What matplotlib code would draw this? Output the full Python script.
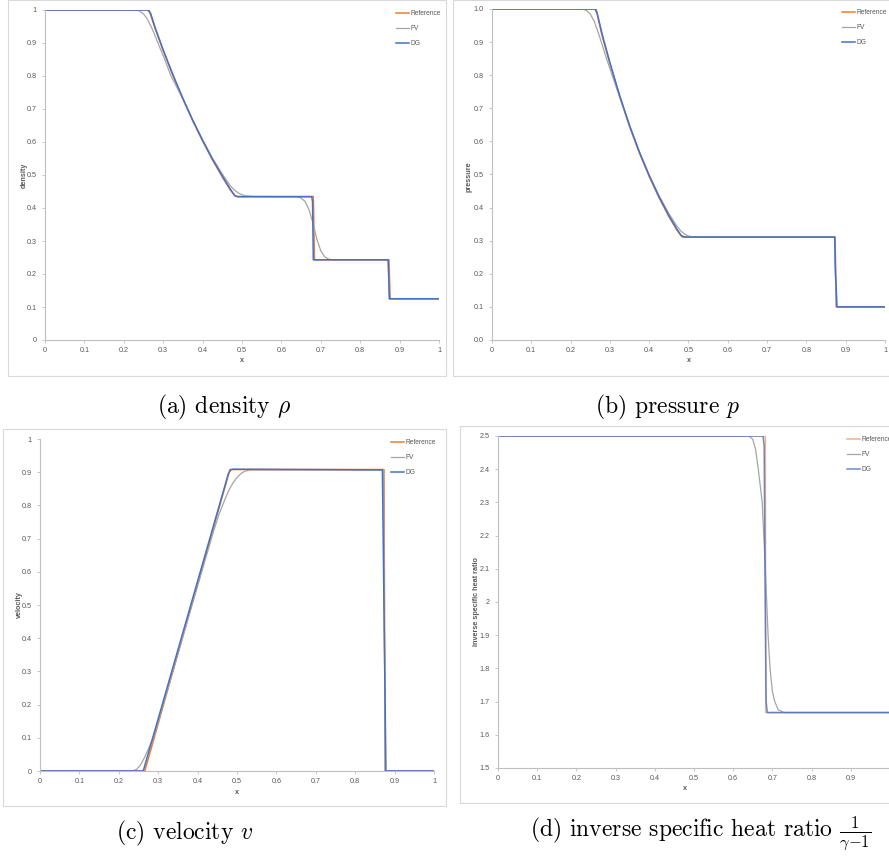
import matplotlib
matplotlib.use("Agg")
import matplotlib.pyplot as plt
from matplotlib.patches import Rectangle
from matplotlib.ticker import FuncFormatter, MultipleLocator, FixedLocator

plt.rcParams['font.family'] = ['Liberation Sans', 'DejaVu Sans']
plt.rcParams['mathtext.fontset'] = 'cm'

W, H = 889, 861

# ---- density ----
rho_ref_x = [0, 0.264, 0.28, 0.30, 0.325, 0.35, 0.375, 0.40, 0.425, 0.45, 0.47, 0.484, 0.681, 0.684, 0.873, 0.876, 1.0]
rho_ref_y = [1, 1, 0.942, 0.877, 0.801, 0.730, 0.664, 0.603, 0.546, 0.494, 0.455, 0.435, 0.435, 0.243, 0.243, 0.125, 0.125]
rho_fv_x = [0, 0.23, 0.24, 0.25, 0.26, 0.27, 0.28, 0.29, 0.30, 0.32, 0.35, 0.375, 0.40, 0.425, 0.45, 0.47, 0.48, 0.49,
            0.50, 0.51, 0.53, 0.64, 0.65, 0.66, 0.67, 0.68, 0.69, 0.70, 0.71, 0.72, 0.73, 0.871, 0.874, 1.0]
rho_fv_y = [1, 1, 0.997, 0.988, 0.972, 0.948, 0.92, 0.89, 0.862, 0.80, 0.73, 0.666, 0.607, 0.551, 0.503, 0.468, 0.455, 0.446,
            0.440, 0.437, 0.435, 0.434, 0.43, 0.42, 0.395, 0.355, 0.305, 0.27, 0.252, 0.245, 0.243, 0.243, 0.125, 0.125]
rho_dg_x = [0, 0.261, 0.268, 0.28, 0.30, 0.325, 0.35, 0.375, 0.40, 0.425, 0.45, 0.47, 0.481, 0.49, 0.677, 0.679, 0.681, 0.871, 0.874, 1.0]
rho_dg_y = [1, 1, 0.99, 0.945, 0.879, 0.803, 0.732, 0.666, 0.605, 0.548, 0.497, 0.458, 0.438, 0.434, 0.434, 0.42, 0.243, 0.243, 0.125, 0.125]

# ---- pressure ----
p_ref_x = [0, 0.265, 0.28, 0.30, 0.325, 0.35, 0.375, 0.40, 0.425, 0.45, 0.47, 0.484, 0.873, 0.876, 1.0]
p_ref_y = [1, 1, 0.92, 0.835, 0.735, 0.645, 0.565, 0.494, 0.43, 0.373, 0.333, 0.311, 0.311, 0.1, 0.1]
p_fv_x = [0, 0.23, 0.24, 0.25, 0.26, 0.27, 0.28, 0.29, 0.30, 0.32, 0.35, 0.375, 0.40, 0.425, 0.45, 0.47, 0.48, 0.49,
          0.50, 0.51, 0.53, 0.872, 0.876, 1.0]
p_fv_y = [1, 1, 0.996, 0.985, 0.963, 0.93, 0.893, 0.855, 0.82, 0.75, 0.648, 0.568, 0.498, 0.436, 0.382, 0.345, 0.33, 0.32,
          0.314, 0.312, 0.311, 0.311, 0.1, 0.1]
p_dg_x = [0, 0.262, 0.268, 0.28, 0.30, 0.325, 0.35, 0.375, 0.40, 0.425, 0.45, 0.47, 0.481, 0.49, 0.872, 0.874, 0.878, 1.0]
p_dg_y = [1, 1, 0.985, 0.925, 0.838, 0.738, 0.648, 0.568, 0.497, 0.433, 0.376, 0.336, 0.316, 0.311, 0.311, 0.2, 0.1, 0.1]

# ---- velocity ----
v_ref_x = [0, 0.266, 0.482, 0.873, 0.876, 1.0]
v_ref_y = [0, 0, 0.908, 0.908, 0, 0]
v_fv_x = [0, 0.235, 0.245, 0.255, 0.265, 0.275, 0.29, 0.44, 0.455, 0.47, 0.48, 0.49, 0.50, 0.51, 0.52, 0.535, 0.872, 0.876, 1.0]
v_fv_y = [0, 0, 0.005, 0.018, 0.04, 0.066, 0.108, 0.72, 0.775, 0.82, 0.847, 0.868, 0.884, 0.896, 0.903, 0.907, 0.907, 0, 0]
v_dg_x = [0, 0.262, 0.478, 0.484, 0.49, 0.869, 0.872, 0.878, 1.0]
v_dg_y = [0, 0, 0.895, 0.907, 0.909, 0.907, 0.6, 0, 0]

# ---- inverse specific heat ratio ----
g_ref_x = [0, 0.682, 0.683, 1.0]
g_ref_y = [2.5, 2.5, 1.667, 1.667]
g_fv_x = [0, 0.64, 0.65, 0.657, 0.664, 0.674, 0.682, 0.689, 0.694, 0.70, 0.706, 0.715, 0.73, 1.0]
g_fv_y = [2.5, 2.5, 2.49, 2.46, 2.40, 2.30, 2.10, 1.90, 1.80, 1.73, 1.70, 1.675, 1.667, 1.667]
g_dg_x = [0, 0.676, 0.679, 0.681, 0.684, 0.687, 1.0]
g_dg_y = [2.5, 2.5, 2.47, 2.1, 1.70, 1.667, 1.667]

x_ticks = [0, 0.1, 0.2, 0.3, 0.4, 0.5, 0.6, 0.7, 0.8, 0.9, 1.0]

ORANGE = '#ED7D31'
GRAY = '#A5A5A5'
BLUE = '#4472C4'
TXT = '#595959'


def px_axes(l, t, r, b):
    return fig.add_axes([l / W, 1 - b / H, (r - l) / W, (b - t) / H])


def frame(l, t, r, b):
    fig.patches.append(Rectangle((l / W, 1 - b / H), (r - l) / W, (b - t) / H,
                                 transform=fig.transFigure, fill=False,
                                 edgecolor='#d9d9d9', lw=0.8))


def general(v, pos):
    return f"{round(v, 3):g}"


def one_dec(v, pos):
    return f"{v:.1f}"


fig = plt.figure(figsize=(W / 100, H / 100), dpi=100)

frame(8, 0.5, 446, 376)
frame(453, 0.5, 905, 376)
frame(3, 429, 446, 806)
frame(460, 426, 905, 803)

panels = [
    # box, ylim, ystep, yfmt, series, ylabel, positions, caption, alpha, x ticks
    ((45, 10, 439, 340), (0, 1), 0.1, general,
     (rho_ref_x, rho_ref_y, rho_fv_x, rho_fv_y, rho_dg_x, rho_dg_y),
     'density', (24, 175), (242, 361), (396, 10), (224, 407), r'(a) density $\rho$', 1.0, x_ticks),
    ((492, 9, 885, 340), (0, 1), 0.1, one_dec,
     (p_ref_x, p_ref_y, p_fv_x, p_fv_y, p_dg_x, p_dg_y),
     'pressure', (469, 177), (689, 361), (842, 9), (668, 407), r'(b) pressure $p$', 1.0, x_ticks),
    ((40, 439, 434, 771), (0, 1), 0.1, general,
     (v_ref_x, v_ref_y, v_fv_x, v_fv_y, v_dg_x, v_dg_y),
     'velocity', (19, 605), (237, 792), (391, 439), (185, 833), r'(c) velocity $v$', 1.0, x_ticks),
    ((498, 436, 890, 768), (1.5, 2.5), 0.1, general,
     (g_ref_x, g_ref_y, g_fv_x, g_fv_y, g_dg_x, g_dg_y),
     'inverse specific heat ratio', (476, 602), (685, 789), (847, 436), (701, 833),
     r'(d) inverse specific heat ratio $\frac{1}{\gamma{-}1}$', 0.6, x_ticks[:-1]),
]

for box, ylim, ystep, yfmt, s, ylab, ylpos, xlpos, legpos, cappos, cap, alpha, xt in panels:
    ax = px_axes(*box)
    rx, ry, fx, fy, dx, dy = s
    ax.plot(rx, ry, color=ORANGE, lw=1.1, label='Reference', alpha=alpha)
    ax.plot(fx, fy, color=GRAY, lw=0.9, label='FV')
    ax.plot(dx, dy, color=BLUE, lw=1.1, label='DG', alpha=max(alpha, 0.8))
    ax.set_xlim(0, 1)
    ax.set_ylim(*ylim)
    ax.xaxis.set_major_locator(FixedLocator(xt))
    ax.yaxis.set_major_locator(MultipleLocator(ystep))
    ax.xaxis.set_major_formatter(FuncFormatter(general))
    ax.yaxis.set_major_formatter(FuncFormatter(yfmt))
    for side in ('top', 'right'):
        ax.spines[side].set_visible(False)
    for side in ('left', 'bottom'):
        ax.spines[side].set_color('#bfbfbf')
        ax.spines[side].set_linewidth(0.8)
    ax.tick_params(axis='both', length=2.2, width=0.6, color='#bfbfbf',
                   labelsize=5.2, labelcolor=TXT)
    ax.tick_params(axis='x', pad=3)
    ax.tick_params(axis='y', pad=4)

    fig.text(ylpos[0] / W, 1 - ylpos[1] / H, ylab, rotation=90, fontsize=5.2,
             fontweight='bold', color=TXT, ha='center', va='center')
    fig.text(xlpos[0] / W, 1 - xlpos[1] / H, 'x', fontsize=5.2,
             fontweight='bold', color=TXT, ha='center', va='center')

    leg = ax.legend(loc='upper left', bbox_to_anchor=(legpos[0] / W, 1 - legpos[1] / H),
                    bbox_transform=fig.transFigure, frameon=False, fontsize=4.8,
                    handlelength=1.9, handletextpad=0.3, labelspacing=1.2,
                    borderpad=0, borderaxespad=0)
    for t in leg.get_texts():
        t.set_color(TXT)

    fig.text(cappos[0] / W, 1 - cappos[1] / H, cap, fontsize=17,
             family='cmr10', ha='center', va='center', color='black')

fig.savefig('out.png', dpi=100)
